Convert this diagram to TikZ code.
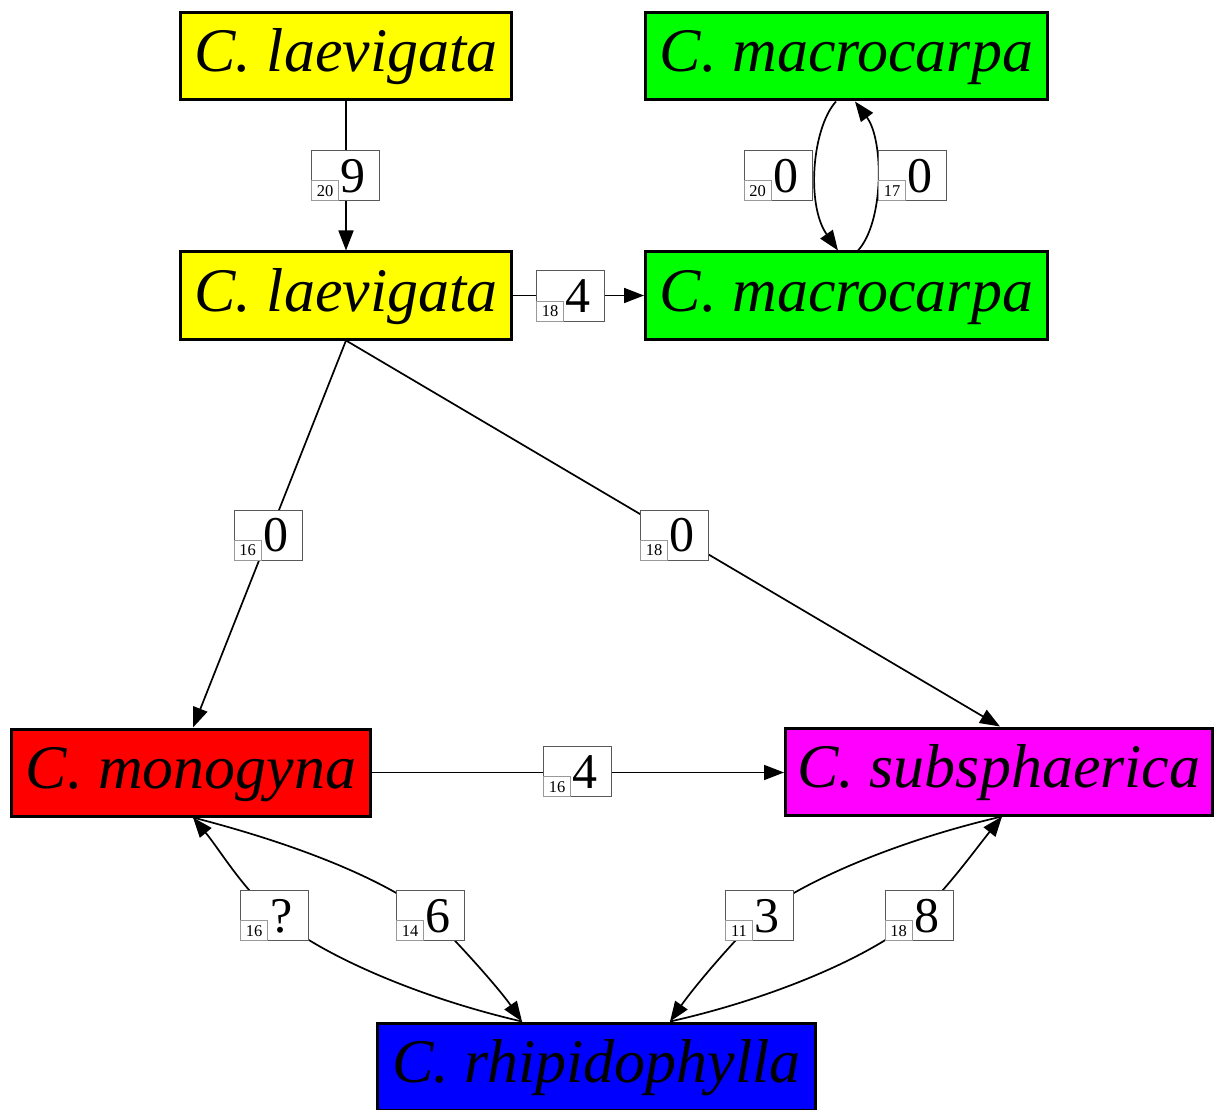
\documentclass[tikz,border=0pt]{standalone}
\usepackage{fontspec}
\setmainfont{Liberation Serif}
\usetikzlibrary{arrows.meta,calc}
\definecolor{cyel}{RGB}{255,255,0}
\definecolor{cgrn}{RGB}{0,255,0}
\definecolor{cred}{RGB}{255,0,0}
\definecolor{cmag}{RGB}{255,0,255}
\definecolor{cblu}{RGB}{0,0,255}
\pgfdeclarelayer{edgelayer}
\pgfsetlayers{edgelayer,main}
\tikzset{
 sp/.style={draw=black, line width=3pt, inner sep=0pt, minimum height=87pt, text height=59pt, text depth=28pt, font=\fontsize{62}{62}\selectfont\itshape},
 labbox/.style={draw=black!65, fill=white, line width=1pt, minimum width=68pt, minimum height=50pt, inner sep=0pt},
 smallbox/.style={draw=black!40, fill=white, line width=1pt, minimum width=27pt, minimum height=20pt, inner sep=0pt, text height=15.5pt, text depth=4.5pt, font=\fontsize{16.5}{16.5}\selectfont},
 bignum/.style={inner sep=0pt, font=\fontsize{50}{50}\selectfont},
 edge/.style={line width=1.7pt, -{Triangle[length=20pt,width=15pt]}},
}
\newcommand\edgelab[4]{%
 \node[labbox] (#1) at (#2) {};
 \node[smallbox, anchor=south west] (#1s) at (#1.south west) {#3};
 \node[bignum, anchor=base] (#1b) at ($(#1.south west)+(42,-9)$) {#4};
}
\begin{document}
\begin{tikzpicture}[x=1pt,y=-1pt]
\useasboundingbox (0,0) rectangle (1216,1110);
% species nodes
\node[sp, fill=cyel, minimum width=331pt] (laev1) at (346,56.5) {C. laevigata};
\node[sp, fill=cgrn, minimum width=402pt] (macro1) at (846.5,56.5) {C. macrocarpa};
\node[sp, fill=cyel, minimum width=331pt] (laev2) at (346,295.5) {C. laevigata};
\node[sp, fill=cgrn, minimum width=402pt] (macro2) at (846.5,295.5) {C. macrocarpa};
\node[sp, fill=cred, minimum width=359pt] (mono) at (191,772.5) {C. monogyna};
\node[sp, fill=cmag, minimum width=427pt] (subsph) at (999,771.5) {C. subsphaerica};
\node[sp, fill=cblu, minimum width=438pt] (rhip) at (596.5,1066.5) {C. rhipidophylla};
% edge labels
\edgelab{la}{345.5,176}{20}{9}
\edgelab{lb}{570.5,296}{18}{4}
\edgelab{lc}{778,176}{20}{0}
\edgelab{ld}{912.5,176}{17}{0}
\edgelab{le}{268,535}{16}{0}
\edgelab{lf}{674.5,535}{18}{0}
\edgelab{lg}{577.5,771.5}{16}{4}
\edgelab{lh}{274.5,915.5}{16}{?}
\edgelab{li}{430.5,915.5}{14}{6}
\edgelab{lj}{759.5,915.5}{11}{3}
\edgelab{lk}{919,915.5}{18}{8}
% edges
\begin{pgfonlayer}{edgelayer}
\draw[edge] (laev1.south) -- (laev2.north);
\draw[edge] (laev2.east) -- (macro2.west);
\draw[edge] ($(macro1.south)+(-10.5,0)$) .. controls (812,128) and (806,205) .. ($(macro2.north)+(-8.5,0)$);
\draw[edge] ($(macro2.north)+(11.5,0)$) .. controls (884,222) and (884,140) .. ($(macro1.south)+(8.5,0)$);
\draw[edge] (laev2.south) -- ($(mono.north)+(2,0)$);
\draw[edge] (laev2.south) -- ($(subsph.north)+(1,0)$);
\draw[edge] (mono.east) -- (mono.east -| subsph.west);
% rhipidophylla -> monogyna (?)
\draw[edge] ($(rhip.north)+(-74.5,0)$) .. controls (420,998) and (320,955) .. (lh.center)
   .. controls (242,888) and (220,850) .. ($(mono.south)+(2,0)$);
% monogyna -> rhipidophylla (6)
\draw[edge] ($(mono.south)+(2,0)$) .. controls (300,845) and (385,880) .. (li.center)
   .. controls (465,950) and (500,990) .. ($(rhip.north)+(-74.5,0)$);
% subsphaerica -> rhipidophylla (3)
\draw[edge] ($(subsph.south)+(3,0)$) .. controls (900,840) and (805,880) .. (lj.center)
   .. controls (725,950) and (692,990) .. ($(rhip.north)+(73.5,0)$);
% rhipidophylla -> subsphaerica (8)
\draw[edge] ($(rhip.north)+(73.5,0)$) .. controls (775,998) and (875,955) .. (lk.center)
   .. controls (950,885) and (975,850) .. ($(subsph.south)+(3,0)$);
\end{pgfonlayer}
\end{tikzpicture}
\end{document}
